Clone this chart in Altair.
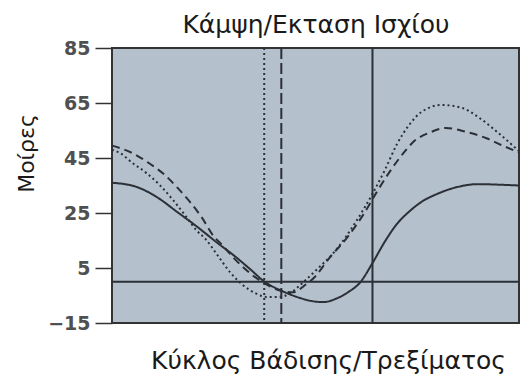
import altair as alt
import pandas as pd

TITLE = "Κάμψη/Εκταση Ισχίου"
Y_TITLE = "Μοίρες"
X_TITLE = "Κύκλος Βάδισης/Τρεξίματος"
Y_TICKS = [-15, 5, 25, 45, 65, 85]

# solid curve
solid_x = [0, 6, 11, 16, 21, 26, 30, 34, 37.5, 42, 46, 49, 52, 55, 58, 61, 64, 67, 70, 73, 76, 80, 85, 90, 95, 100]
solid_y = [36, 34.5, 30.8, 25.4, 19.9, 14, 9.5, 4.5, 0, -3.5, -5.8, -7, -7.4, -6.2, -3.8, -0.2, 6.8, 14.5, 21, 25.5, 29, 32, 34.5, 35.5, 35.3, 35]

# dashed curve
dashed_x = [0, 5, 9, 13, 16, 19, 22, 25, 27, 30, 34, 38, 41.5, 44.5, 47.6, 50, 53, 58, 62, 65, 68, 72, 74, 78, 82, 87, 92, 96, 100]
dashed_y = [49.5, 46.8, 43.2, 38.8, 34.3, 29.3, 23.5, 16.5, 13.5, 8.5, 3, -1, -3.3, -3.8, -1, 2, 7.9, 16.5, 25, 32.5, 39.5, 47.5, 50.8, 54.2, 55.9, 54.5, 52.2, 49.5, 47]

# dotted curve
dotted_x = [0, 2, 5, 8.5, 11.7, 15, 18.3, 20.7, 23, 26, 29, 32, 35, 38, 41, 44, 46, 50, 55, 60, 64, 67, 70, 73, 76, 81, 86, 91, 95, 100]
dotted_y = [48, 46.8, 43.2, 39.5, 35.2, 29.7, 23.5, 18.8, 15.5, 9.5, 3.5, -1, -4, -5.5, -5.5, -4, -1.5, 4, 11.5, 22, 32, 40.5, 50, 57, 61.7, 64.3, 63.2, 58.8, 54, 47.5]

# reference lines
vline_x = [37.4, 41.6, 64]
vline_style = ["dotted", "dashed", "solid"]
hline_y = [0]

rows = []
for name, xs, ys in [("solid", solid_x, solid_y), ("dashed", dashed_x, dashed_y), ("dotted", dotted_x, dotted_y)]:
    for a, b in zip(xs, ys):
        rows.append({"x": a, "y": b, "s": name})
df = pd.DataFrame(rows)
vdf = pd.DataFrame({"x": vline_x, "s": vline_style})
hdf = pd.DataFrame({"y": hline_y})
tdf = pd.DataFrame({"t": [TITLE]})

INK = "#2b2f36"
TXT = "#1a1a1a"
dash_scale = alt.Scale(domain=["solid", "dashed", "dotted"], range=[[1, 0], [8, 5], [2, 3]])
vdash_scale = alt.Scale(domain=["solid", "dashed", "dotted"], range=[[1, 0], [11, 4], [2, 3]])

xsc = alt.Scale(domain=[0, 100], nice=False, zero=False)
ysc = alt.Scale(domain=[-15, 85], nice=False, zero=False)

xaxis = alt.Axis(title=X_TITLE, labels=False, ticks=False, domain=False, grid=False,
                 titleFont="DejaVu Sans", titleFontSize=25, titleFontWeight="normal", titleColor=TXT,
                 titleX=216, titleY=45, titleBaseline="alphabetic", titleAlign="center")
yaxis = alt.Axis(title=Y_TITLE, values=Y_TICKS, grid=False, domain=False,
                 tickSize=17, tickWidth=1.5, tickColor="#333", labelPadding=5,
                 labelFont="DejaVu Sans", labelFontWeight="bold", labelFontSize=19, labelColor="#505050",
                 titleFont="DejaVu Sans", titleFontSize=22, titleFontWeight="normal", titleColor=TXT,
                 titleAngle=-90, titleX=-79, titleY=105, titleBaseline="alphabetic", titleAlign="center")

curves = alt.Chart(df).mark_line(color=INK, strokeWidth=2, interpolate="monotone").encode(
    x=alt.X("x:Q", scale=xsc, axis=xaxis),
    y=alt.Y("y:Q", scale=ysc, axis=yaxis),
    strokeDash=alt.StrokeDash("s:N", scale=dash_scale, legend=None),
    detail="s:N",
)

vrules = alt.Chart(vdf).mark_rule(color=INK, strokeWidth=2).encode(
    x="x:Q",
    strokeDash=alt.StrokeDash("s:N", scale=vdash_scale, legend=None),
)

hrule = alt.Chart(hdf).mark_rule(color=INK, strokeWidth=2).encode(y="y:Q")

title = alt.Chart(tdf).mark_text(font="DejaVu Sans", fontSize=25, color=TXT, align="center",
                                  baseline="alphabetic").encode(
    text="t:N", x=alt.value(204), y=alt.value(-15))

chart = alt.layer(vrules, hrule, curves, title).resolve_scale(strokeDash="independent").properties(
    width=407, height=275,
    autosize=alt.AutoSizeParams(type="none"),
    padding={"left": 104, "top": 40, "right": 1, "bottom": 52},
).configure_view(fill="#b5c0cd", stroke="#333", strokeWidth=2)

chart.save("out.html", embed_options={"renderer": "svg", "actions": False})
